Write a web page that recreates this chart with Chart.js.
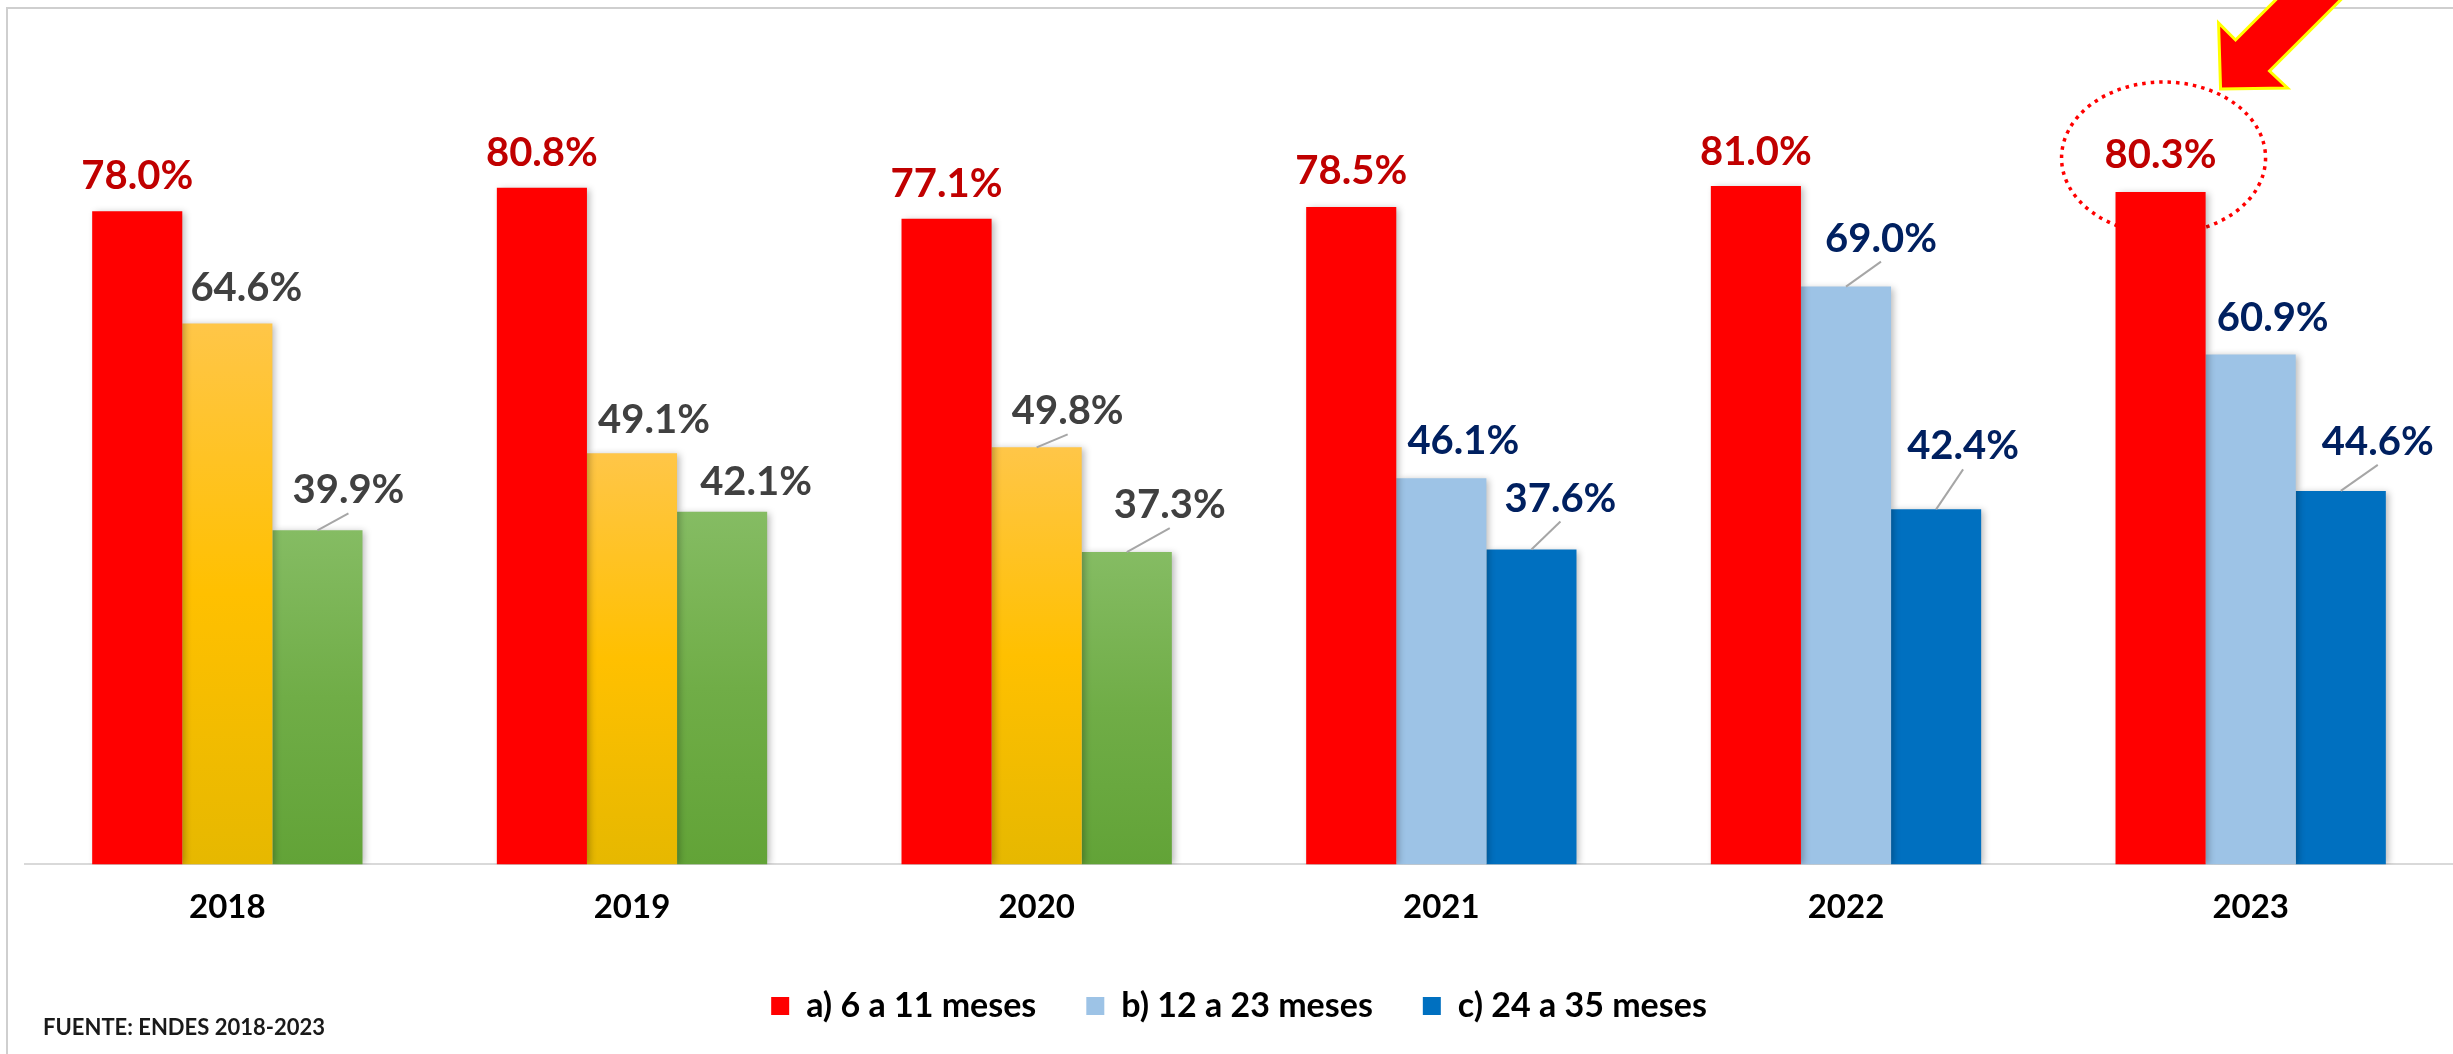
<!DOCTYPE html>
<html lang="es">
<head>
<meta charset="utf-8">
<title>Prevalencia por grupo de edad 2018-2023</title>
<script src="https://cdn.jsdelivr.net/npm/chart.js@4.4.1/dist/chart.umd.min.js"></script>
<style>
  html, body { margin: 0; padding: 0; background: #fff; overflow: hidden; }
  #marco { position: absolute; left: 6px; top: 7px; width: 2460px; height: 1060px;
           border-left: 2px solid #cfcfcf; border-top: 2px solid #cfcfcf; }
  canvas { position: absolute; left: 0; top: 0; }
  #fuente { position: absolute; left: 43px; top: 1013px; font: bold 22px Lato, sans-serif; color: #1a1a1a; }
</style>
</head>
<body>
<div id="marco"></div>
<canvas id="grafico" width="2453" height="1054"></canvas>
<div id="fuente">FUENTE: ENDES 2018-2023</div>
<script>
const anios = ["2018", "2019", "2020", "2021", "2022", "2023"];
const serieA = [78.0, 80.8, 77.1, 78.5, 81.0, 80.3];
const serieB = [64.6, 49.1, 49.8, 46.1, 69.0, 60.9];
const serieC = [39.9, 42.1, 37.3, 37.6, 42.4, 44.6];
const nombres = ["a) 6 a 11 meses", "b) 12 a 23 meses", "c) 24 a 35 meses"];
const aniosAntiguos = ["2018", "2019", "2020"];

// desplazamiento de etiquetas [dx, alto sobre la barra]
const ajusteA = [[0, 36], [0, 36], [0, 36], [0, 37], [0, 35], [0, 38]];
const ajusteB = [[19, 36], [22, 34], [31, 37], [22, 38], [35, 49], [22, 37]];
const ajusteC = [[31, 41], [34, 31], [43, 48], [29, 52], [27, 64], [37, 50]];
const ajustes = [ajusteA, ajusteB, ajusteC];

const colorRojo = "#FF0000";
const colorCeleste = "#9DC3E6";
const colorAzul = "#0070C0";

Chart.defaults.font.family = "Lato, sans-serif";

function degradado(c, colores, plano) {
  const chart = c.chart;
  if (!chart.chartArea || c.raw === undefined) return plano;
  const y = chart.scales.y;
  const g = chart.ctx.createLinearGradient(0, y.getPixelForValue(c.raw), 0, y.getPixelForValue(0));
  g.addColorStop(0, colores[0]);
  g.addColorStop(0.5, colores[1]);
  g.addColorStop(1, colores[2]);
  return g;
}

function esAntiguo(j) {
  return aniosAntiguos.includes(anios[j]);
}

function colorTexto(i, j) {
  if (i === 0) return "#C00000";
  return esAntiguo(j) ? "#404040" : "#002060";
}

const extras = {
  id: "extras",
  beforeDatasetsDraw(chart) {
    const ctx = chart.ctx;
    const barra = chart.getDatasetMeta(0).data[5];
    // elipse punteada
    ctx.save();
    ctx.strokeStyle = "#FF0000";
    ctx.lineWidth = 3.5;
    ctx.setLineDash([3.5, 5]);
    ctx.beginPath();
    ctx.ellipse(barra.x + 3, barra.y - 34, 102, 76, 0, 0, Math.PI * 2);
    ctx.stroke();
    ctx.restore();
    // sombra de barras
    ctx.save();
    ctx.shadowColor = "rgba(0,0,0,0.28)";
    ctx.shadowBlur = 7;
    ctx.shadowOffsetX = 3;
    ctx.shadowOffsetY = 1;
  },
  afterDatasetsDraw(chart) {
    const ctx = chart.ctx;
    ctx.restore();
    ctx.save();
    ctx.font = "bold 40px Lato, sans-serif";
    ctx.textAlign = "center";
    ctx.textBaseline = "alphabetic";
    chart.data.datasets.forEach((ds, i) => {
      chart.getDatasetMeta(i).data.forEach((bar, j) => {
        const [dx, alto] = ajustes[i][j];
        const lx = bar.x + dx;
        const ly = bar.y - alto;
        if (dx >= 27 && alto >= 37) {
          ctx.strokeStyle = "#A6A6A6";
          ctx.lineWidth = 2;
          ctx.beginPath();
          ctx.moveTo(bar.x, bar.y);
          ctx.lineTo(lx, ly + 24);
          ctx.stroke();
        }
        ctx.fillStyle = colorTexto(i, j);
        ctx.fillText(ds.data[j].toFixed(1) + "%", lx, ly + 14);
      });
    });
    ctx.restore();
  },
  afterDraw(chart) {
    const ctx = chart.ctx;
    const barra = chart.getDatasetMeta(0).data[5];
    const px = barra.x + 60, py = barra.y - 103;
    const pts = [[0, 0], [-2, -66], [15, -49], [165, -199], [199, -168], [49, -18], [67, -1]];
    ctx.save();
    ctx.beginPath();
    pts.forEach(([a, b], k) => k ? ctx.lineTo(px + a, py + b) : ctx.moveTo(px + a, py + b));
    ctx.closePath();
    ctx.fillStyle = "#FF0000";
    ctx.fill();
    ctx.strokeStyle = "#FFFF00";
    ctx.lineWidth = 3;
    ctx.stroke();
    ctx.restore();
  }
};

new Chart(document.getElementById("grafico"), {
  type: "bar",
  data: {
    labels: anios,
    datasets: [
      {
        label: nombres[0],
        data: serieA,
        backgroundColor: colorRojo
      },
      {
        label: nombres[1],
        data: serieB,
        backgroundColor: c => esAntiguo(c.dataIndex)
          ? degradado(c, ["#FFC648", "#FFC000", "#E6B800"], "#FFC000")
          : colorCeleste
      },
      {
        label: nombres[2],
        data: serieC,
        backgroundColor: c => esAntiguo(c.dataIndex)
          ? degradado(c, ["#85BC63", "#70AD47", "#62A337"], "#70AD47")
          : colorAzul
      }
    ]
  },
  options: {
    responsive: false,
    animation: false,
    datasets: {
      bar: { categoryPercentage: 0.668, barPercentage: 1.0, borderWidth: 0 }
    },
    layout: { padding: { left: 25, right: 0, top: 27, bottom: 21 } },
    scales: {
      x: {
        grid: { display: false, drawTicks: false },
        border: { display: true, color: "#D9D9D9", width: 2 },
        ticks: { color: "#000", font: { size: 33, weight: "bold" }, padding: 23 },
        afterFit(s) { s.height -= 11; }
      },
      y: { display: false, min: 0, max: 100 }
    },
    plugins: {
      tooltip: { enabled: false },
      legend: {
        position: "bottom",
        labels: {
          boxWidth: 18,
          boxHeight: 18,
          padding: 50,
          color: "#000",
          font: { size: 34, weight: "bold" },
          generateLabels() {
            const colores = [colorRojo, colorCeleste, colorAzul];
            return nombres.map((n, i) => ({
              text: n,
              fillStyle: colores[i],
              strokeStyle: colores[i],
              lineWidth: 0,
              fontColor: "#000",
              hidden: false,
              datasetIndex: i
            }));
          }
        }
      }
    }
  },
  plugins: [extras]
});
</script>
</body>
</html>
